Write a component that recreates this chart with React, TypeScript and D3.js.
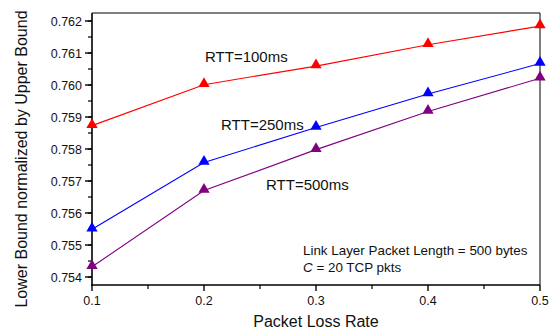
import React, { useEffect, useRef } from "react";
import * as d3 from "d3";

const lossRates = [0.1, 0.2, 0.3, 0.4, 0.5];
const rtt100 = [0.75873, 0.76001, 0.76059, 0.76126, 0.76184];
const rtt250 = [0.75549, 0.75758, 0.75867, 0.75972, 0.76067];
const rtt500 = [0.75432, 0.7567, 0.75798, 0.75917, 0.76021];
const yTicks = [0.754, 0.755, 0.756, 0.757, 0.758, 0.759, 0.76, 0.761, 0.762];
const xTicks = [0.1, 0.2, 0.3, 0.4, 0.5];

const series = [
  { name: "RTT=100ms", values: rtt100, color: "#ff0000", lx: 205, ly: 62 },
  { name: "RTT=250ms", values: rtt250, color: "#0000ff", lx: 221, ly: 130 },
  { name: "RTT=500ms", values: rtt500, color: "#800080", lx: 266, ly: 190 },
];

const width = 558;
const height = 333;
const left = 92;
const right = 540;
const top = 13;
const bottom = 285;
const font = "'Liberation Sans', Arial, Helvetica, sans-serif";

const App = () => {
  const svgRef = useRef<SVGSVGElement>(null);

  useEffect(() => {
    const svg = d3.select(svgRef.current);
    svg.selectAll("*").remove();

    const x = d3.scaleLinear().domain([0.1, 0.5]).range([left, right]);
    const y = d3.scaleLinear().domain([0.75375, 0.76225]).range([bottom, top]);

    // frame (top and right)
    svg
      .append("path")
      .attr("d", `M${left},${top}H${right}V${bottom}`)
      .attr("fill", "none")
      .attr("stroke", "#000")
      .attr("stroke-width", 1);

    // y axis
    const yAxis = svg.append("g").attr("transform", `translate(${left},0)`);
    yAxis
      .append("line")
      .attr("y1", top)
      .attr("y2", bottom + 1)
      .attr("stroke", "#000")
      .attr("stroke-width", 1.6);
    const yMinor = d3.range(0.7535, 0.7622, 0.0005).filter((v) => y(v) >= top && y(v) <= bottom);
    yAxis
      .selectAll("line.minor")
      .data(yMinor)
      .join("line")
      .attr("class", "minor")
      .attr("x1", -4)
      .attr("x2", 0)
      .attr("y1", (d) => y(d))
      .attr("y2", (d) => y(d))
      .attr("stroke", "#000")
      .attr("stroke-width", 1.2);
    yAxis
      .selectAll("line.major")
      .data(yTicks)
      .join("line")
      .attr("class", "major")
      .attr("x1", -7)
      .attr("x2", 0)
      .attr("y1", (d) => y(d))
      .attr("y2", (d) => y(d))
      .attr("stroke", "#000")
      .attr("stroke-width", 1.4);
    yAxis
      .selectAll("text")
      .data(yTicks)
      .join("text")
      .attr("x", -10)
      .attr("y", (d) => y(d))
      .attr("dy", "0.36em")
      .attr("text-anchor", "end")
      .attr("font-family", font)
      .attr("font-size", 12.5)
      .attr("fill", "#111")
      .text((d) => d3.format(".3f")(d));

    // x axis
    const xAxis = svg.append("g").attr("transform", `translate(0,${bottom})`);
    xAxis
      .append("line")
      .attr("x1", left - 1)
      .attr("x2", right)
      .attr("stroke", "#000")
      .attr("stroke-width", 1.6);
    xAxis
      .selectAll("line.minor")
      .data(d3.range(0.15, 0.5, 0.1))
      .join("line")
      .attr("class", "minor")
      .attr("x1", (d) => x(d))
      .attr("x2", (d) => x(d))
      .attr("y1", 0)
      .attr("y2", 4)
      .attr("stroke", "#000")
      .attr("stroke-width", 1.2);
    xAxis
      .selectAll("line.major")
      .data(xTicks)
      .join("line")
      .attr("class", "major")
      .attr("x1", (d) => x(d))
      .attr("x2", (d) => x(d))
      .attr("y1", 0)
      .attr("y2", 6)
      .attr("stroke", "#000")
      .attr("stroke-width", 1.4);
    xAxis
      .selectAll("text")
      .data(xTicks)
      .join("text")
      .attr("x", (d) => x(d))
      .attr("y", 20)
      .attr("text-anchor", "middle")
      .attr("font-family", font)
      .attr("font-size", 12.5)
      .attr("fill", "#111")
      .text((d) => d3.format(".1f")(d));

    // axis titles
    svg
      .append("text")
      .attr("x", 316)
      .attr("y", 327)
      .attr("text-anchor", "middle")
      .attr("font-family", font)
      .attr("font-size", 16)
      .attr("fill", "#111")
      .text("Packet Loss Rate");
    svg
      .append("text")
      .attr("transform", `translate(27,159) rotate(-90)`)
      .attr("text-anchor", "middle")
      .attr("font-family", font)
      .attr("font-size", 16)
      .attr("fill", "#111")
      .text("Lower Bound normalized by Upper Bound");

    // series
    const line = d3
      .line<number>()
      .x((_, i) => x(lossRates[i]))
      .y((d) => y(d));
    const tri = d3.symbol().type(d3.symbolTriangle).size(55);

    series.forEach((s) => {
      svg
        .append("path")
        .attr("d", line(s.values))
        .attr("fill", "none")
        .attr("stroke", s.color)
        .attr("stroke-width", 1.1);
      svg
        .append("g")
        .selectAll("path")
        .data(s.values)
        .join("path")
        .attr("d", tri)
        .attr("transform", (d, i) => `translate(${x(lossRates[i])},${y(d) - 1})`)
        .attr("fill", s.color);
      svg
        .append("text")
        .attr("x", s.lx)
        .attr("y", s.ly)
        .attr("font-family", font)
        .attr("font-size", 15)
        .attr("fill", "#111")
        .text(s.name);
    });

    // annotation
    svg
      .append("text")
      .attr("x", 303)
      .attr("y", 255)
      .attr("font-family", font)
      .attr("font-size", 13.4)
      .attr("fill", "#111")
      .text("Link Layer Packet Length = 500 bytes");
    const t2 = svg
      .append("text")
      .attr("x", 303)
      .attr("y", 272)
      .attr("font-family", font)
      .attr("font-size", 13.4)
      .attr("fill", "#111");
    t2.append("tspan").attr("font-style", "italic").text("C");
    t2.append("tspan").text(" = 20 TCP pkts");
  }, []);

  return (
    <svg
      ref={svgRef}
      width={width}
      height={height}
      style={{ position: "absolute", left: 0, top: 0, background: "#fff" }}
    ></svg>
  );
};

export default App;
